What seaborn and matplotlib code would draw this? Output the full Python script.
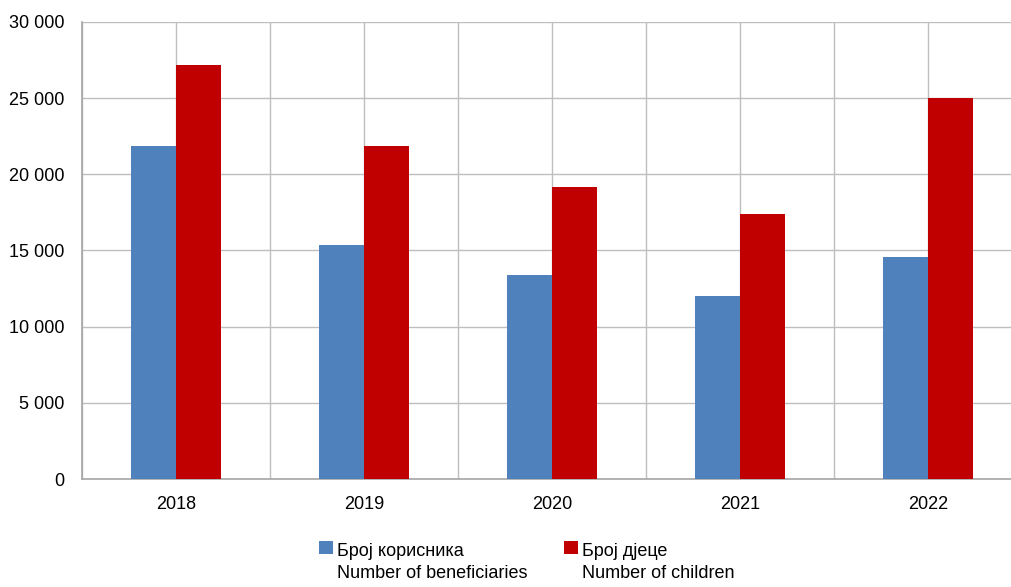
import matplotlib
matplotlib.use("Agg")
import matplotlib.pyplot as plt
import matplotlib.ticker as mticker
from matplotlib.patches import Rectangle
from matplotlib.legend_handler import HandlerPatch
import seaborn as sns
import pandas as pd

years = ["2018", "2019", "2020", "2021", "2022"]
beneficiaries = [21850, 15370, 13380, 12020, 14600]
children = [27200, 21860, 19180, 17380, 25000]
series_names = ["Број корисника\nNumber of beneficiaries", "Број дјеце\nNumber of children"]
colors = ["#4F81BD", "#C00000"]

df = pd.DataFrame({
    "year": years * 2,
    "value": beneficiaries + children,
    "series": [series_names[0]] * len(years) + [series_names[1]] * len(years),
})

sns.set_style("white")
plt.rcParams["font.family"] = ["Liberation Sans Narrow", "Liberation Sans", "DejaVu Sans"]
plt.rcParams["text.color"] = "black"
plt.rcParams["xtick.color"] = "black"
plt.rcParams["ytick.color"] = "black"

fig = plt.figure(figsize=(10.11, 5.87), dpi=100)
ax = fig.add_axes([82 / 1011, 108 / 587, 940 / 1011, 457 / 587])

sns.barplot(data=df, x="year", y="value", hue="series", palette=colors,
            width=0.48, saturation=1, linewidth=0, ax=ax, zorder=3)

ax.set_xlim(-0.5, 4.5)
ax.set_ylim(0, 30000)
ax.yaxis.set_major_locator(mticker.MultipleLocator(5000))
ax.yaxis.set_major_formatter(mticker.FuncFormatter(lambda v, p: f"{int(v):,}".replace(",", " ")))
ax.xaxis.set_minor_locator(mticker.FixedLocator([i - 0.5 for i in range(len(years) + 1)]))

grid_c = "#BEBEBE"
ax.grid(True, which="both", axis="x", color=grid_c, linewidth=1, zorder=0)
ax.grid(True, which="major", axis="y", color=grid_c, linewidth=1, zorder=0)
ax.set_axisbelow(True)

for side in ["top", "right"]:
    ax.spines[side].set_visible(False)
for side in ["left", "bottom"]:
    ax.spines[side].set_color("#A6A6A6")
    ax.spines[side].set_linewidth(1.2)

fs = 13
ax.tick_params(axis="y", which="major", length=4.5, color="#A6A6A6", labelcolor="black", labelsize=fs, pad=8)
ax.tick_params(axis="x", which="major", length=0, labelcolor="black", labelsize=fs, pad=12)
ax.tick_params(axis="x", which="minor", length=5, color="#A6A6A6", direction="out")
ax.set_xlabel("")
ax.set_ylabel("")


def top_patch(legend, orig_handle, xdescent, ydescent, width, height, fontsize):
    return Rectangle((-xdescent, -ydescent + 11), width, height)


handles, labels = ax.get_legend_handles_labels()
leg = ax.legend(handles, labels, loc="upper center", bbox_to_anchor=(527 / 1011, 1 - 543 / 587),
                bbox_transform=fig.transFigure, ncol=2, frameon=False, fontsize=fs,
                handlelength=0.75, handleheight=0.75, handletextpad=0.25, columnspacing=2.0,
                borderaxespad=0, borderpad=0,
                handler_map={Rectangle: HandlerPatch(patch_func=top_patch)})
for t in leg.get_texts():
    t.set_color("black")
    t.set_linespacing(1.35)

fig.savefig("out.png", dpi=100)
